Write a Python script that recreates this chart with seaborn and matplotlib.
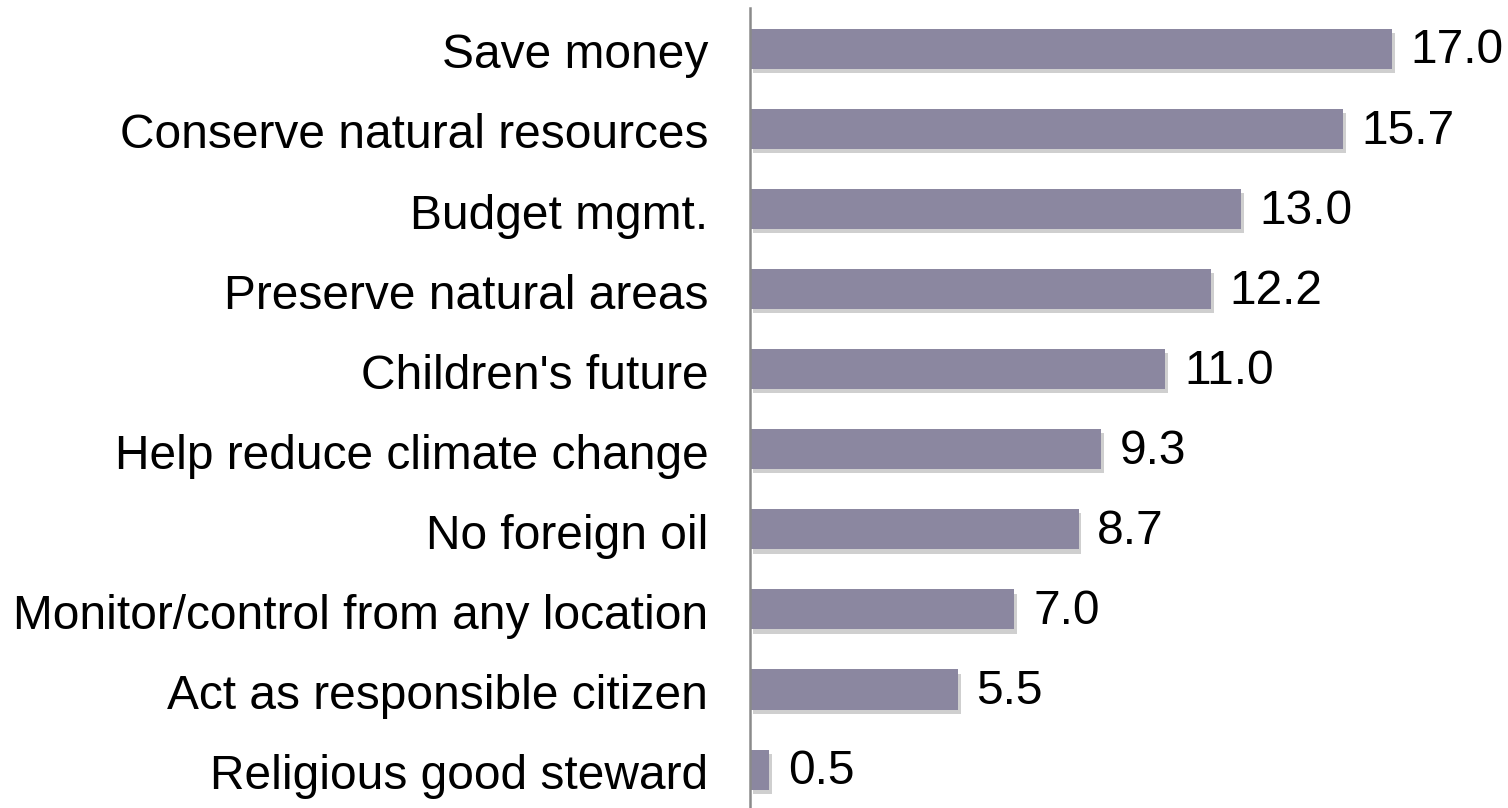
import matplotlib
matplotlib.use("Agg")
import matplotlib.pyplot as plt
import matplotlib.patheffects as pe
import matplotlib.transforms as mtransforms
import seaborn as sns
import pandas as pd

categories = ["Save money", "Conserve natural resources", "Budget mgmt.",
              "Preserve natural areas", "Children's future",
              "Help reduce climate change", "No foreign oil",
              "Monitor/control from any location", "Act as responsible citizen",
              "Religious good steward"]
values = [17.0, 15.7, 13.0, 12.2, 11.0, 9.3, 8.7, 7.0, 5.5, 0.5]

df = pd.DataFrame({"category": categories, "value": values})

sns.set_theme(style="white")
plt.rcParams['font.family'] = ['Liberation Sans', 'DejaVu Sans']

fig = plt.figure(figsize=(15.08, 8.08), dpi=100)
ax = fig.add_axes([750/1508, 0, 758/1508, 800/808])

sns.barplot(data=df, x="value", y="category", orient="h", color="#8B87A0",
            saturation=1, width=0.5, linewidth=0, ax=ax)

for p in ax.patches:
    p.set_path_effects([pe.SimplePatchShadow(offset=(2, -3), shadow_rgbFace="#b0b0b0", alpha=0.6),
                        pe.Normal()])

for i, v in enumerate(values):
    ax.annotate(f"{v:.1f}", xy=(v, i), xytext=(13.5, -1.5), textcoords="offset points",
                va="center", ha="left", fontsize=34.5, color="black")

ax.set_xlim(0, 20.07)
ax.set_ylim(9.48, -0.51)
ax.set_xlabel("")
ax.set_ylabel("")
ax.set_xticks([])
ax.tick_params(axis="y", length=0, pad=30, labelsize=34.5, labelcolor="black")
shift = mtransforms.ScaledTranslation(0, -2/100, fig.dpi_scale_trans)
for lab in ax.get_yticklabels():
    lab.set_transform(lab.get_transform() + shift)
for s in ["top", "right", "bottom"]:
    ax.spines[s].set_visible(False)
ax.spines["left"].set_color("#8a8a8a")
ax.spines["left"].set_linewidth(1.8)

fig.savefig("out.png", dpi=100, facecolor="white")
